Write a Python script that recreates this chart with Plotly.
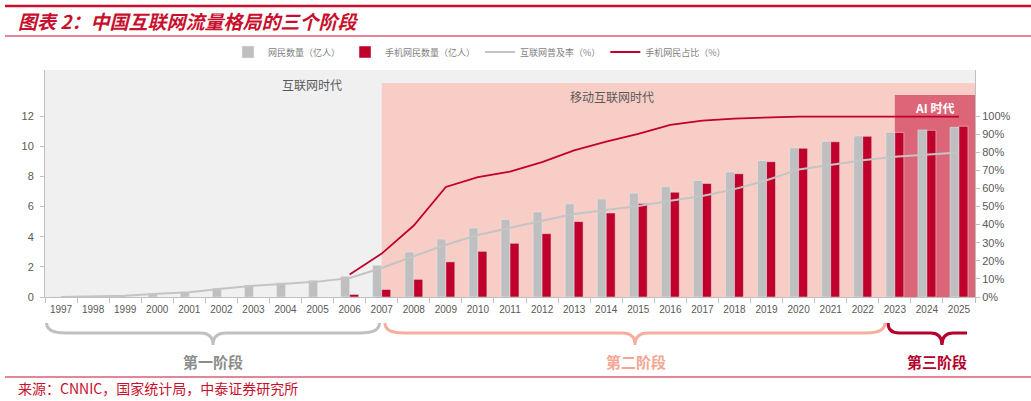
import plotly.graph_objects as go

years = [str(y) for y in range(1997, 2026)]
netizens = [0.0062, 0.021, 0.089, 0.225, 0.337, 0.591, 0.795, 0.94, 1.11, 1.37,
            2.10, 2.98, 3.84, 4.57, 5.13, 5.64, 6.18, 6.49, 6.88, 7.31,
            7.72, 8.29, 9.04, 9.89, 10.32, 10.67, 10.92, 11.08, 11.25]
mobile = [None, None, None, None, None, None, None, None, None, 0.17,
          0.50, 1.17, 2.33, 3.03, 3.56, 4.20, 5.00, 5.57, 6.20, 6.95,
          7.53, 8.17, 8.97, 9.86, 10.29, 10.65, 10.91, 11.05, 11.32]
penetration = [0.05, 0.17, 0.7, 1.8, 2.6, 4.6, 6.2, 7.3, 8.5, 10.5,
               16.0, 22.6, 28.9, 34.3, 38.3, 42.1, 45.8, 47.9, 50.3, 53.2,
               55.8, 59.6, 64.5, 70.4, 73.0, 75.6, 77.5, 78.6, 79.8]
mobile_share = [None, None, None, None, None, None, None, None, None, 12.4,
                24.0, 39.5, 60.8, 66.2, 69.3, 74.5, 81.0, 85.8, 90.1, 95.1,
                97.5, 98.6, 99.3, 99.7, 99.7, 99.8, 99.9, 99.7, 99.7]
left_ticks = [0, 2, 4, 6, 8, 10, 12]
right_ticks = list(range(0, 101, 10))
right_tick_labels = [f"{v}%" for v in right_ticks]

W, H = 1031, 401
ML, MR, MT, MB = 45, 56, 70, 104
PW, PH = W - ML - MR, H - MT - MB
YMAX = 12 * PH / 181.0
Y2MAX = 100 * YMAX / 12.0

def px2paper_x(px):
    return (px - ML) / PW

def py2paper_y(py):
    return (H - MB - py) / PH

def py2y(py):
    return (H - MB - py) / 181.0 * 12

fig = go.Figure()
fig.add_trace(go.Bar(x=years, y=netizens, name="网民数量（亿人）",
                     marker_color="#bfbfbf", yaxis="y"))
fig.add_trace(go.Bar(x=years, y=mobile, name="手机网民数量（亿人）",
                     marker_color="#c0002a", yaxis="y"))
fig.add_trace(go.Scatter(x=years, y=penetration, name="互联网普及率（%）",
                         mode="lines", line=dict(color="#c4c4c4", width=2), yaxis="y2"))
fig.add_trace(go.Scatter(x=years, y=mobile_share, name="手机网民占比（%）",
                         mode="lines", line=dict(color="#c0002a", width=1.8), yaxis="y2"))

shapes = []
# era backgrounds
shapes.append(dict(type="rect", xref="x", yref="y", x0=-0.5, x1=28.5, y0=0, y1=YMAX,
                   fillcolor="#f0f0f0", line_width=0, layer="below"))
shapes.append(dict(type="rect", xref="x", yref="y", x0=10, x1=28.5, y0=0, y1=py2y(83),
                   fillcolor="#f8cdc5", line_width=0, layer="below"))
shapes.append(dict(type="rect", xref="x", yref="y", x0=26, x1=28.5, y0=0, y1=py2y(95),
                   fillcolor="#dc6577", line_width=0, layer="below"))

# braces
yt, ym, yp = py2paper_y(323), py2paper_y(333), py2paper_y(345)

def brace(x0, x1, xm, r=0.6, rt=0.4, right_up=True):
    p = f"M{x0},{yt} Q{x0},{ym} {x0 + r},{ym} L{xm - rt},{ym} Q{xm},{ym} {xm},{yp} "
    p += f"Q{xm},{ym} {xm + rt},{ym} "
    if right_up:
        p += f"L{x1 - r},{ym} Q{x1},{ym} {x1},{yt}"
    else:
        p += f"L{x1},{ym}"
    return p

shapes.append(dict(type="path", xref="x", yref="paper", path=brace(-0.45, 9.93, 4.74),
                   line=dict(color="#c0c0c0", width=3)))
shapes.append(dict(type="path", xref="x", yref="paper", path=brace(10.1, 25.69, 17.9),
                   line=dict(color="#f7ae9e", width=3)))
shapes.append(dict(type="path", xref="x", yref="paper", path=brace(25.79, 28.25, 27.47, r=0.35, rt=0.35, right_up=False),
                   line=dict(color="#b3002c", width=3)))

# decorative report lines
shapes.append(dict(type="line", xref="paper", yref="paper", x0=px2paper_x(5), x1=px2paper_x(1031),
                   y0=py2paper_y(6), y1=py2paper_y(6), line=dict(color="#c8102e", width=2.5)))
shapes.append(dict(type="line", xref="paper", yref="paper", x0=px2paper_x(5), x1=px2paper_x(1031),
                   y0=py2paper_y(36), y1=py2paper_y(36), line=dict(color="#c8102e", width=1.2)))
shapes.append(dict(type="line", xref="paper", yref="paper", x0=px2paper_x(5), x1=px2paper_x(1031),
                   y0=py2paper_y(377), y1=py2paper_y(377), line=dict(color="#c8102e", width=1.2)))

cjk = "Noto Sans CJK SC"
annotations = [
    dict(text="<b><i>图表 2：中国互联网流量格局的三个阶段</i></b>", xref="paper", yref="paper",
         x=px2paper_x(16), y=py2paper_y(20), xanchor="left", yanchor="middle", showarrow=False,
         font=dict(family=cjk, size=19, color="#c8102e")),
    dict(text="来源：CNNIC，国家统计局，中泰证券研究所", xref="paper", yref="paper",
         x=px2paper_x(16), y=py2paper_y(388), xanchor="left", yanchor="middle", showarrow=False,
         font=dict(family=cjk, size=14, color="#c8102e")),
    dict(text="互联网时代", xref="x", yref="y", x=7.83, y=py2y(84), showarrow=False,
         yanchor="middle", font=dict(family=cjk, size=12, color="#595959")),
    dict(text="移动互联网时代", xref="x", yref="y", x=17.18, y=py2y(96), showarrow=False,
         yanchor="middle", font=dict(family=cjk, size=12, color="#595959")),
    dict(text="<b>AI 时代</b>", xref="x", yref="y", x=27.25, y=py2y(107), showarrow=False,
         yanchor="middle", font=dict(family=cjk, size=12, color="#ffffff")),
    dict(text="<b>第一阶段</b>", xref="x", yref="paper", x=4.74, y=py2paper_y(361), showarrow=False,
         yanchor="middle", font=dict(family=cjk, size=15, color="#8c8c8c")),
    dict(text="<b>第二阶段</b>", xref="x", yref="paper", x=17.93, y=py2paper_y(361), showarrow=False,
         yanchor="middle", font=dict(family=cjk, size=15, color="#f5a693")),
    dict(text="<b>第三阶段</b>", xref="x", yref="paper", x=27.33, y=py2paper_y(361), showarrow=False,
         yanchor="middle", font=dict(family=cjk, size=15, color="#b3002c")),
]

fig.update_layout(
    width=W, height=H,
    margin=dict(l=ML, r=MR, t=MT, b=MB, pad=0),
    paper_bgcolor="white", plot_bgcolor="white",
    font=dict(family="Liberation Sans, Arial, " + cjk, color="#595959"),
    barmode="group", bargap=0.44, bargroupgap=0,
    shapes=shapes, annotations=annotations,
    legend=dict(orientation="h", x=px2paper_x(228), y=py2paper_y(52), xanchor="left", yanchor="middle",
                font=dict(family=cjk, size=9, color="#7f7f7f"), bgcolor="rgba(0,0,0,0)",
                itemwidth=30, traceorder="normal"),
    xaxis=dict(type="category", range=[-0.5, 28.5], showline=True, linecolor="#bfbfbf", linewidth=1,
               ticks="outside", tickson="boundaries", ticklen=5, tickcolor="#bfbfbf",
               ticklabelstandoff=3,
               tickfont=dict(size=10, color="#595959"), showgrid=False, zeroline=False, fixedrange=True),
    yaxis=dict(range=[0, YMAX], tickvals=left_ticks, showgrid=False, zeroline=False,
               showline=True, linecolor="#bfbfbf", ticks="outside", ticklen=4, tickcolor="#bfbfbf",
               ticklabelstandoff=4,
               tickfont=dict(size=11, color="#595959")),
    yaxis2=dict(range=[0, Y2MAX], overlaying="y", side="right", tickvals=right_ticks,
                ticktext=right_tick_labels, showgrid=False, zeroline=False, showline=True, linecolor="#bfbfbf",
                ticks="outside", ticklen=4, tickcolor="#bfbfbf", tickfont=dict(size=11, color="#595959")),
)

fig.write_html("out.html")
